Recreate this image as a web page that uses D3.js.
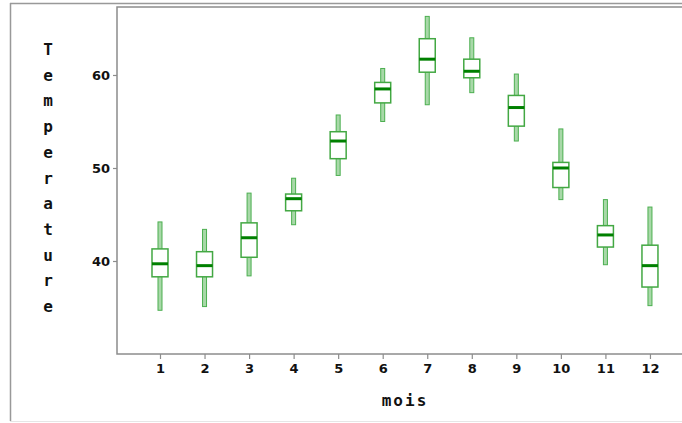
<!DOCTYPE html>
<html>
<head>
<meta charset="utf-8">
<script src="https://cdn.jsdelivr.net/npm/d3@7"></script>
<style>
  html, body { margin: 0; padding: 0; background: #fff; }
  svg { display: block; }
</style>
</head>
<body>
<svg id="chart" width="682" height="423"></svg>
<script>
const months = [1, 2, 3, 4, 5, 6, 7, 8, 9, 10, 11, 12];
const whiskerLow  = [34.7, 35.1, 38.4, 43.9, 49.2, 55.0, 56.8, 58.1, 52.9, 46.6, 39.6, 35.2];
const q1          = [38.3, 38.3, 40.4, 45.4, 51.0, 57.0, 60.3, 59.7, 54.5, 47.9, 41.5, 37.2];
const medians     = [39.7, 39.5, 42.5, 46.7, 52.9, 58.5, 61.7, 60.4, 56.5, 50.0, 42.8, 39.5];
const q3          = [41.3, 41.0, 44.1, 47.2, 53.9, 59.2, 63.9, 61.7, 57.8, 50.6, 43.8, 41.7];
const whiskerHigh = [44.2, 43.4, 47.3, 48.9, 55.7, 60.7, 66.3, 64.0, 60.1, 54.2, 46.6, 45.8];
const yTicks = [40, 50, 60];
const yTitle = "Temperature";
const xTitle = "mois";

const svg = d3.select("#chart");
const W = 682, H = 423;

const x = d3.scaleLinear().domain([0, 13]).range([115.45, 694.5]);
const y = d3.scaleLinear().domain([30, 67.31]).range([354, 7]);

const gray = "#8c8c8c";

// outer frame
svg.append("line").attr("x1", 10).attr("x2", W).attr("y1", 3.5).attr("y2", 3.5)
  .attr("stroke", "#999").attr("stroke-width", 1.5);
svg.append("line").attr("x1", 10.5).attr("x2", 10.5).attr("y1", 3).attr("y2", 421)
  .attr("stroke", "#999").attr("stroke-width", 1.5);
svg.append("line").attr("x1", 10).attr("x2", W).attr("y1", 421.5).attr("y2", 421.5)
  .attr("stroke", "#e6e6e6").attr("stroke-width", 1);

// plot frame
svg.append("rect").attr("x", 117).attr("y", 7).attr("width", 600).attr("height", 347)
  .attr("fill", "none").attr("stroke", gray).attr("stroke-width", 1.5);

// axes
const xAxis = d3.axisBottom(x).tickValues(months).tickSize(5).tickPadding(5).tickFormat(d3.format("d"));
const gx = svg.append("g").attr("transform", "translate(0,354)").call(xAxis);
gx.select(".domain").remove();
gx.selectAll(".tick line").attr("stroke", gray).attr("stroke-width", 1.2);
gx.selectAll(".tick text").attr("fill", "#111").attr("font-family", "DejaVu Sans").attr("font-weight", "bold").attr("font-size", 13);

const yAxis = d3.axisLeft(y).tickValues(yTicks).tickSize(4).tickPadding(3);
const gy = svg.append("g").attr("transform", "translate(117,0)").call(yAxis);
gy.select(".domain").remove();
gy.selectAll(".tick line").attr("stroke", gray).attr("stroke-width", 1.2);
gy.selectAll(".tick text").attr("fill", "#111").attr("font-family", "DejaVu Sans").attr("font-weight", "bold").attr("font-size", 13);

// boxes
const data = months.map((m, i) => ({ m, lo: whiskerLow[i], q1: q1[i], med: medians[i], q3: q3[i], hi: whiskerHigh[i] }));
const g = svg.append("g");
const boxW = 16, whW = 4;
const box = g.selectAll("g.box").data(data).enter().append("g").attr("class", "box");

box.append("rect")
  .attr("x", d => x(d.m) - whW / 2)
  .attr("y", d => y(d.hi))
  .attr("width", whW)
  .attr("height", d => y(d.lo) - y(d.hi))
  .attr("fill", "#a8d8a8").attr("stroke", "#4caf50").attr("stroke-width", 1);

box.append("rect")
  .attr("x", d => x(d.m) - boxW / 2)
  .attr("y", d => y(d.q3))
  .attr("width", boxW)
  .attr("height", d => y(d.q1) - y(d.q3))
  .attr("fill", "#fff").attr("stroke", "#43a843").attr("stroke-width", 1.5);

box.append("line")
  .attr("x1", d => x(d.m) - boxW / 2)
  .attr("x2", d => x(d.m) + boxW / 2)
  .attr("y1", d => y(d.med)).attr("y2", d => y(d.med))
  .attr("stroke", "#008000").attr("stroke-width", 3);

// y title, stacked letters
svg.append("g").selectAll("text").data(yTitle.split("")).enter().append("text")
  .attr("x", 48).attr("y", (d, i) => 55 + i * 25.7)
  .attr("text-anchor", "middle")
  .attr("font-family", "DejaVu Sans Mono").attr("font-weight", "bold").attr("font-size", 16)
  .attr("fill", "#111")
  .text(d => d);

// x title
svg.append("text")
  .attr("x", 405).attr("y", 406)
  .attr("text-anchor", "middle")
  .attr("font-family", "DejaVu Sans Mono").attr("font-weight", "bold").attr("font-size", 16)
  .attr("letter-spacing", 2)
  .attr("fill", "#111")
  .text(xTitle);
</script>
</body>
</html>
